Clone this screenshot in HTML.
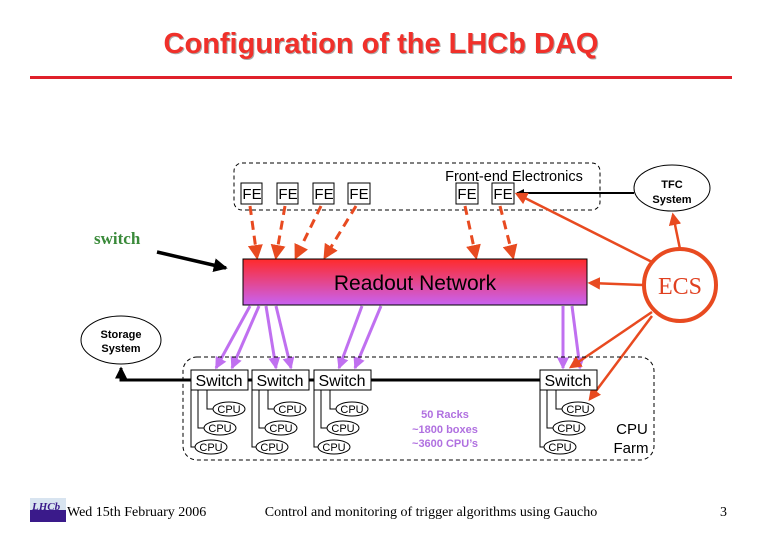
<!DOCTYPE html>
<html><head><meta charset="utf-8"><style>body{margin:0;background:#fff}svg{display:block}</style></head>
<body>
<svg width="780" height="540" viewBox="0 0 780 540" xmlns="http://www.w3.org/2000/svg" font-family="Liberation Sans, sans-serif">
<defs>
<linearGradient id="g" x1="0" y1="0" x2="0" y2="1"><stop offset="0" stop-color="#ff2a2a"/><stop offset="1" stop-color="#c862f2"/></linearGradient>
<marker id="ar" markerWidth="5" markerHeight="5" refX="4" refY="2.5" orient="auto" markerUnits="strokeWidth"><path d="M0,0 L5,2.5 L0,5 z" fill="#e84a20"/></marker>
<marker id="ap" markerWidth="4" markerHeight="4" refX="3.5" refY="2" orient="auto" markerUnits="strokeWidth"><path d="M0,0 L4,2 L0,4 z" fill="#c070f0"/></marker>
<marker id="ab" markerWidth="4" markerHeight="4" refX="3.5" refY="2" orient="auto" markerUnits="strokeWidth"><path d="M0,0 L4,2 L0,4 z" fill="#000"/></marker>
</defs>
<text x="382" y="54" text-anchor="middle" font-size="29" font-weight="bold" fill="#aaa">Configuration of the LHCb DAQ</text>
<text x="381" y="53" text-anchor="middle" font-size="29" font-weight="bold" fill="#f0302a">Configuration of the LHCb DAQ</text>
<rect x="30" y="76" width="702" height="3" fill="#e0202a"/>

<rect x="234" y="163" width="366" height="47" rx="8" fill="none" stroke="#000" stroke-dasharray="4,3"/>
<text x="514" y="181" text-anchor="middle" font-size="14.5">Front-end Electronics</text>
<g fill="#fff" stroke="#000"><rect x="241" y="183" width="21" height="21"/><rect x="277" y="183" width="21" height="21"/><rect x="313" y="183" width="21" height="21"/><rect x="348" y="183" width="22" height="21"/><rect x="456" y="183" width="22" height="21"/><rect x="492" y="183" width="22" height="21"/></g>
<g font-size="15" text-anchor="middle"><text x="252" y="199">FE</text><text x="288" y="199">FE</text><text x="324" y="199">FE</text><text x="359" y="199">FE</text><text x="467" y="199">FE</text><text x="503" y="199">FE</text></g>

<ellipse cx="672" cy="188" rx="38" ry="23" fill="#fff" stroke="#000"/>
<text x="672" y="188" text-anchor="middle" font-size="11" font-weight="bold">TFC</text>
<text x="672" y="203" text-anchor="middle" font-size="11" font-weight="bold">System</text>
<line x1="634" y1="193" x2="517" y2="193" stroke="#000" stroke-width="2" marker-end="url(#ab)"/>

<g stroke="#e84a20" stroke-width="3" stroke-dasharray="9,6" fill="none" marker-end="url(#ar)">
<line x1="250" y1="206" x2="257" y2="257"/><line x1="285" y1="206" x2="276" y2="257"/><line x1="321" y1="206" x2="296" y2="257"/><line x1="356" y1="206" x2="325" y2="257"/><line x1="465" y1="206" x2="476" y2="257"/><line x1="500" y1="206" x2="513" y2="257"/>
</g>

<rect x="243" y="259" width="344" height="46" fill="url(#g)" stroke="#000"/>
<text x="415" y="290" text-anchor="middle" font-size="21">Readout Network</text>

<g stroke="#c070f0" stroke-width="3" marker-end="url(#ap)">
<line x1="250" y1="306" x2="216" y2="368"/><line x1="259" y1="306" x2="232" y2="368"/><line x1="266" y1="306" x2="276" y2="368"/><line x1="276" y1="306" x2="291" y2="368"/><line x1="362" y1="306" x2="339" y2="368"/><line x1="381" y1="306" x2="355" y2="368"/><line x1="563" y1="306" x2="563" y2="368"/><line x1="572" y1="306" x2="580" y2="368"/>
</g>

<circle cx="680" cy="285" r="36" fill="#fff" stroke="#e84a20" stroke-width="4"/>
<text x="680" y="294" text-anchor="middle" font-size="24" font-family="Liberation Serif, serif" fill="#e04020">ECS</text>
<g stroke="#e84a20" stroke-width="2.5" fill="none" marker-end="url(#ar)">
<line x1="680" y1="249" x2="673" y2="215"/><line x1="652" y1="262" x2="517" y2="194"/><line x1="643" y1="285" x2="590" y2="283"/><line x1="652" y1="312" x2="571" y2="367"/><line x1="652" y1="316" x2="590" y2="399"/>
</g>

<text x="94" y="244" font-size="17" font-weight="bold" font-family="Liberation Serif, serif" fill="#3a8a3a">switch</text>
<line x1="157" y1="252" x2="226" y2="268" stroke="#000" stroke-width="3.5" marker-end="url(#ab)"/>

<ellipse cx="121" cy="340" rx="40" ry="24" fill="#fff" stroke="#000"/>
<text x="121" y="338" text-anchor="middle" font-size="11" font-weight="bold">Storage</text>
<text x="121" y="352" text-anchor="middle" font-size="11" font-weight="bold">System</text>

<rect x="183" y="357" width="471" height="103" rx="14" fill="none" stroke="#000" stroke-dasharray="4,3"/>
<polyline points="540,380 121,380 121,368" fill="none" stroke="#000" stroke-width="3" marker-end="url(#ab)"/>

<g fill="#fff" stroke="#000"><rect x="191" y="370" width="57" height="20"/><rect x="252" y="370" width="57" height="20"/><rect x="314" y="370" width="57" height="20"/><rect x="540" y="370" width="57" height="20"/></g>
<g font-size="16" text-anchor="middle"><text x="219" y="386">Switch</text><text x="280" y="386">Switch</text><text x="342" y="386">Switch</text><text x="568" y="386">Switch</text></g>

<g id="cpus" fill="none" stroke="#000">
<polyline points="207,390 207,409 213,409"/><polyline points="198,390 198,428 204,428"/><polyline points="191,390 191,447 195,447"/>
<ellipse cx="229" cy="409" rx="16" ry="7" fill="#fff"/><ellipse cx="220" cy="428" rx="16" ry="7" fill="#fff"/><ellipse cx="211" cy="447" rx="16" ry="7" fill="#fff"/>
</g>
<g font-size="11" text-anchor="middle"><text x="229" y="413">CPU</text><text x="220" y="432">CPU</text><text x="211" y="451">CPU</text></g>
<g transform="translate(61,0)"><use href="#cpus"/><g font-size="11" text-anchor="middle"><text x="229" y="413">CPU</text><text x="220" y="432">CPU</text><text x="211" y="451">CPU</text></g></g>
<g transform="translate(123,0)"><use href="#cpus"/><g font-size="11" text-anchor="middle"><text x="229" y="413">CPU</text><text x="220" y="432">CPU</text><text x="211" y="451">CPU</text></g></g>
<g transform="translate(349,0)"><use href="#cpus"/><g font-size="11" text-anchor="middle"><text x="229" y="413">CPU</text><text x="220" y="432">CPU</text><text x="211" y="451">CPU</text></g></g>

<g font-size="11" font-weight="bold" fill="#b070e0" text-anchor="middle"><text x="445" y="418">50 Racks</text><text x="445" y="433">~1800 boxes</text><text x="445" y="447">~3600 CPU’s</text></g>
<g font-size="15" text-anchor="middle"><text x="632" y="434">CPU</text><text x="631" y="453">Farm</text></g>

<rect x="30" y="498" width="36" height="24" fill="#d8e4f0"/><rect x="30" y="510" width="36" height="12" fill="#3a1a8a"/>
<text x="32" y="510" font-size="11" font-style="italic" font-weight="bold" font-family="Liberation Serif, serif" fill="#3a1a8a">LHCb</text>
<g font-family="Liberation Serif, serif" font-size="14"><text x="67" y="516">Wed 15th February 2006</text><text x="431" y="516" text-anchor="middle">Control and monitoring of trigger algorithms using Gaucho</text><text x="720" y="516">3</text></g>
</svg>
</body></html>
